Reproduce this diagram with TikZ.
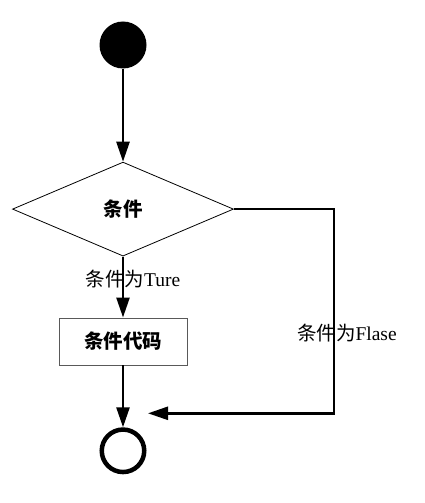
\documentclass[tikz,border=0pt]{standalone}
\usepackage{fontspec}
\setmainfont{Liberation Serif}
\newfontfamily\cjk{Noto Sans CJK SC}
\usepackage{tikz}
\usetikzlibrary{shapes.geometric, positioning, arrows.meta}
\tikzset{
	startnode/.style={
		circle,
		fill=black,
		inner sep=0pt,
		minimum size=47pt
	},
	endnode/.style={
		circle,
		draw,
		line width=4.5pt,
		inner sep=0pt,
		minimum size=42.5pt
	},
	decision/.style={
		diamond,
		draw,
		line width=0.8pt,
		inner sep=0pt,
		minimum width=221pt,
		minimum height=94pt,
		font=\fontsize{19.5}{21}\selectfont\cjk\bfseries
	},
	codebox/.style={
		rectangle,
		draw=black!65,
		line width=0.8pt,
		minimum width=128pt,
		minimum height=47pt,
		font=\fontsize{19.5}{21}\selectfont\cjk\bfseries
	},
	branch/.style={
		inner sep=0pt,
		font=\fontsize{19.5}{22}\selectfont
	},
	flow/.style={
		line width=2.5pt,
		-{Triangle[length=20pt, width=13pt]}
	}
}

\begin{document}
\begin{tikzpicture}[x=1pt, y=-1pt]
		\useasboundingbox (0,0) rectangle (424,503);
		
		\node[startnode] (start) at (123,45) {};
		\node[decision, below=93pt of start] (cond) {条件};
		\node[codebox, below=61pt of cond] (code) {条件代码};
		\node[endnode, below=62pt of code] (finish) {};
		
		% false branch corners
		\coordinate[right=100pt of cond.east] (turn);
		\coordinate[above right=14pt and 25pt of finish.north] (join);
		
		% connections
		\draw[flow] (start) -- (cond);
		\draw[flow] (cond) -- node[branch, pos=0.377, xshift=10pt] {{\cjk 条件为}Ture} (code);
		\draw[flow] (code) -- (finish);
		\draw[flow] (cond.east) -- (turn) |- node[branch, pos=0.303, xshift=13pt] {{\cjk 条件为}Flase} (join);
		
\end{tikzpicture}
\end{document}
